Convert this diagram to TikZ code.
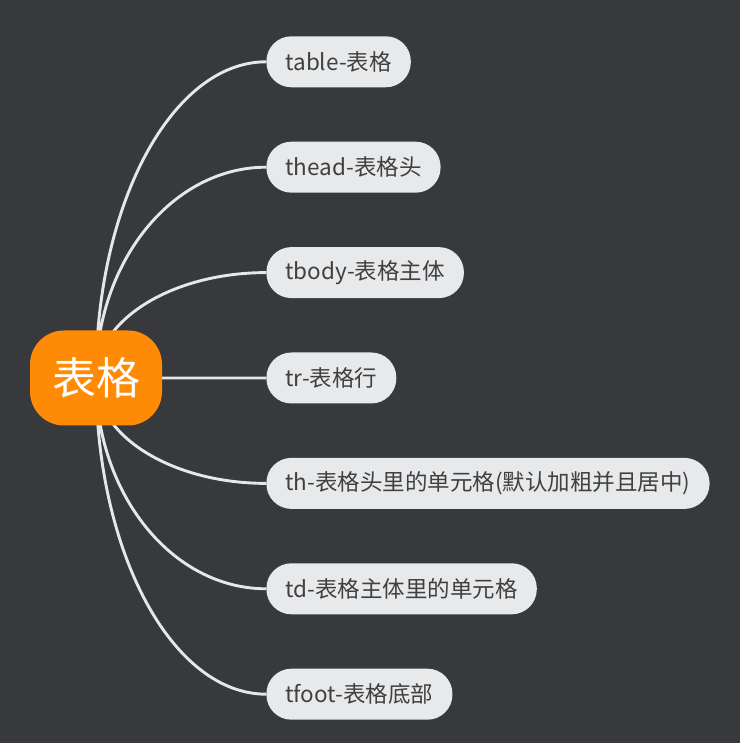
\documentclass[tikz,border=0pt]{standalone}
\usepackage{fontspec}
\newfontfamily\cjk{Noto Sans CJK SC}
\usetikzlibrary{positioning, calc, backgrounds}

\definecolor{board}{HTML}{37393C}
\definecolor{rootorange}{HTML}{FF8A05}
\definecolor{leafgray}{HTML}{E8E9EB}
\definecolor{leaftext}{HTML}{404040}
\definecolor{wire}{HTML}{E6E7E9}

\tikzset{
  root/.style={fill=rootorange, text=white, rounded corners=34pt,
    minimum width=132pt, minimum height=95pt, inner sep=0pt,
    font=\cjk\fontsize{44}{50}\selectfont},
  leaf/.style={fill=leafgray, text=leaftext, rounded corners=25pt,
    minimum height=51pt, inner ysep=0pt, inner xsep=19pt,
    font=\cjk\fontsize{22.5}{26}\selectfont},
  branch/.style={draw=wire, line width=2.9pt,
    to path={.. controls ($(\tikztostart)!0.552!(\tikztostart |- \tikztotarget)$)
      and ($(\tikztotarget)!0.552!(\tikztostart |- \tikztotarget)$) .. (\tikztotarget)}}
}

\begin{document}
\begin{tikzpicture}[x=1pt, y=1pt]
  \begin{scope}[on background layer]
    \fill[board] (0,0) rectangle (740,743);
  \end{scope}
  \useasboundingbox (0,0) rectangle (740,743);

  \node[root] (root) at (96,365) {表格};
  \coordinate (hub) at (root.center);

  \node[leaf, right=104pt of root] (tr) {tr-表格行};
  \node[leaf, above=54pt of tr.north west, anchor=south west] (tbody) {tbody-表格主体};
  \node[leaf, above=54pt of tbody.north west, anchor=south west] (thead) {thead-表格头};
  \node[leaf, above=54pt of thead.north west, anchor=south west] (table) {table-表格};
  \node[leaf, below=54pt of tr.south west, anchor=north west] (th) {th-表格头里的单元格(默认加粗并且居中)};
  \node[leaf, below=54pt of th.south west, anchor=north west] (td) {td-表格主体里的单元格};
  \node[leaf, below=54pt of td.south west, anchor=north west] (tfoot) {tfoot-表格底部};

  \begin{scope}[on background layer]
    \path[branch]
      (hub) to (table.west)
      (hub) to (thead.west)
      (hub) to (tbody.west)
      (hub) to (tr.west)
      (hub) to (th.west)
      (hub) to (td.west)
      (hub) to (tfoot.west);
  \end{scope}
\end{tikzpicture}
\end{document}
